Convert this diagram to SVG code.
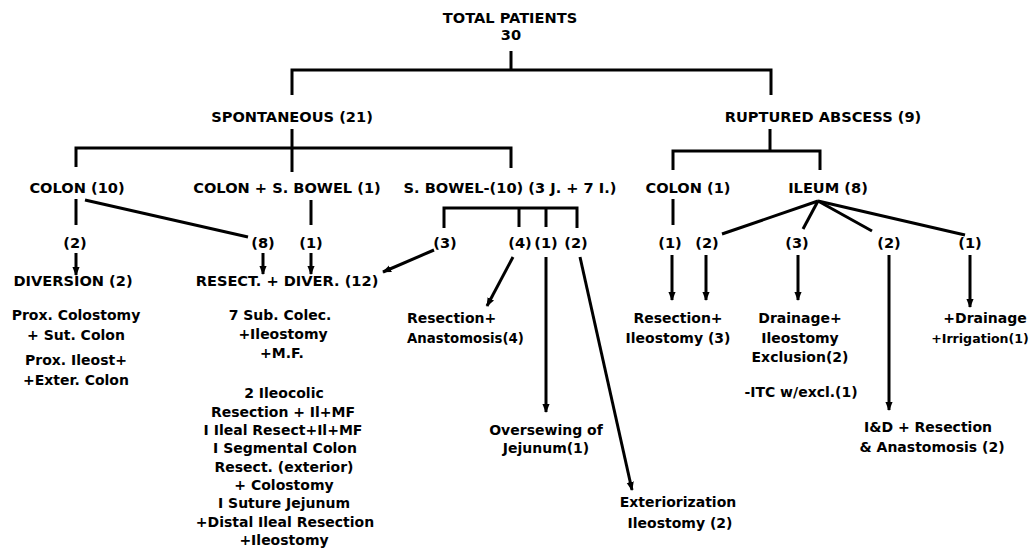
<svg xmlns="http://www.w3.org/2000/svg" width="1036" height="551" viewBox="0 0 1036 551">
<style>
text{font-family:"DejaVu Sans","Liberation Sans",sans-serif;font-weight:bold;fill:#000;text-anchor:middle}
.h{font-size:14.6px}
.s{font-size:14px}
.l{text-anchor:start}
.c line,.c polyline{stroke:#000;stroke-width:3;fill:none}
.c .a{marker-end:url(#ah)}
</style>
<defs>
<marker id="ah" viewBox="0 0 10 10" refX="9" refY="5" markerWidth="3" markerHeight="3.6" orient="auto" markerUnits="strokeWidth">
<path d="M0,1 L10,5 L0,9 Z" fill="#000"/>
</marker>
</defs>
<rect width="1036" height="551" fill="#fff"/>

<g id="total"><text class="h" x="510" y="23">TOTAL PATIENTS</text><text class="h" x="511" y="40">30</text></g>
<g id="spont"><text class="h" x="292" y="122">SPONTANEOUS (21)</text></g>
<g id="rupt"><text class="h" x="823" y="122">RUPTURED ABSCESS (9)</text></g>
<g id="colon10"><text class="h" x="77" y="193">COLON (10)</text></g>
<g id="colonsb"><text class="h" x="287" y="193">COLON + S. BOWEL (1)</text></g>
<g id="sbowel"><text class="h" x="510" y="193">S. BOWEL-(10) (3 J. + 7 I.)</text></g>
<g id="colon1"><text class="h" x="688" y="193">COLON (1)</text></g>
<g id="ileum"><text class="h" x="828" y="193">ILEUM (8)</text></g>

<g id="n-c2"><text class="h" x="75" y="248">(2)</text></g>
<g id="n-c8"><text class="h" x="263" y="248">(8)</text></g>
<g id="n-cs1"><text class="h" x="311" y="248">(1)</text></g>
<g id="n-s3"><text class="h" x="445" y="248">(3)</text></g>
<g id="n-s4"><text class="h" x="520" y="248">(4)</text></g>
<g id="n-s1"><text class="h" x="546" y="248">(1)</text></g>
<g id="n-s2"><text class="h" x="576" y="248">(2)</text></g>
<g id="n-co1"><text class="h" x="670" y="248">(1)</text></g>
<g id="n-i2a"><text class="h" x="707" y="248">(2)</text></g>
<g id="n-i3"><text class="h" x="797" y="248">(3)</text></g>
<g id="n-i2b"><text class="h" x="889" y="248">(2)</text></g>
<g id="n-i1"><text class="h" x="970" y="248">(1)</text></g>

<g id="diversion">
<text class="h" x="73" y="286">DIVERSION (2)</text>
<text class="s" x="76" y="320">Prox. Colostomy</text>
<text class="s" x="76" y="340">+ Sut. Colon</text>
<text class="s" x="76" y="365">Prox.  Ileost+</text>
<text class="s" x="76" y="385">+Exter. Colon</text>
</g>
<g id="resect">
<text class="h" x="287" y="286">RESECT. + DIVER. (12)</text>
<text class="s" x="280" y="320">7 Sub. Colec.</text>
<text class="s" x="283" y="339">+Ileostomy</text>
<text class="s" x="282" y="358">+M.F.</text>
<text class="s" x="284" y="398">2 Ileocolic</text>
<text class="s" x="283" y="417">Resection + Il+MF</text>
<text class="s" x="283" y="435">I Ileal Resect+Il+MF</text>
<text class="s" x="285" y="453">I Segmental Colon</text>
<text class="s" x="284" y="472">Resect. (exterior)</text>
<text class="s" x="284" y="490">+ Colostomy</text>
<text class="s" x="284" y="508">I Suture Jejunum</text>
<text class="s" x="285" y="527">+Distal Ileal Resection</text>
<text class="s" x="284" y="545">+Ileostomy</text>
</g>
<g id="resanast"><text class="s l" x="407" y="323">Resection+</text><text class="s l" x="407" y="343" style="font-size:13.3px">Anastomosis(4)</text></g>
<g id="oversew"><text class="s" x="546" y="435">Oversewing of</text><text class="s" x="546" y="453">Jejunum(1)</text></g>
<g id="exter"><text class="s" x="678" y="507">Exteriorization</text><text class="s" x="680" y="528">Ileostomy (2)</text></g>
<g id="resileo"><text class="s" x="678" y="323">Resection+</text><text class="s" x="678" y="343">Ileostomy  (3)</text></g>
<g id="drain"><text class="s" x="800" y="323">Drainage+</text><text class="s" x="800" y="343">Ileostomy</text><text class="s" x="800" y="362">Exclusion(2)</text><text class="s" x="801" y="397">-ITC w/excl.(1)</text></g>
<g id="iandd"><text class="s" x="928" y="432">I&amp;D +  Resection</text><text class="s" x="932" y="452">&amp; Anastomosis (2)</text></g>
<g id="irrig"><text class="s" x="985" y="323">+Drainage</text><text class="s" x="980" y="343" style="font-size:12.6px">+Irrigation(1)</text></g>

<g id="connectors" class="c">
<line x1="511" y1="51" x2="511" y2="70"/>
<polyline points="292,95 292,70 771,70 771,95"/>
<line x1="292" y1="129" x2="292" y2="172"/>
<polyline points="76,167 76,148 511,148 511,168"/>
<line x1="770" y1="129" x2="770" y2="151"/>
<polyline points="673,170 673,151 820,151 820,170"/>
<line x1="76" y1="199" x2="76" y2="225"/>
<line x1="85" y1="200" x2="248" y2="237"/>
<line x1="311" y1="200" x2="311" y2="225"/>
<polyline points="444,228 444,208 577,208 577,228"/>
<line x1="519" y1="208" x2="519" y2="227"/>
<line x1="546" y1="208" x2="546" y2="227"/>
<line x1="673" y1="199" x2="673" y2="225"/>
<line x1="818" y1="201" x2="722" y2="234"/>
<line x1="818" y1="201" x2="803" y2="229"/>
<line x1="818" y1="201" x2="872" y2="231"/>
<line x1="818" y1="201" x2="965" y2="235"/>
<line class="a" x1="76" y1="253" x2="76" y2="275"/>
<line class="a" x1="263" y1="253" x2="263" y2="274"/>
<line class="a" x1="311" y1="253" x2="311" y2="274"/>
<line class="a" x1="434" y1="250" x2="383" y2="272"/>
<line class="a" x1="513" y1="257" x2="487" y2="306"/>
<line class="a" x1="546" y1="257" x2="546" y2="412"/>
<line class="a" x1="580" y1="257" x2="632" y2="490"/>
<line class="a" x1="672" y1="255" x2="672" y2="300"/>
<line class="a" x1="706" y1="255" x2="706" y2="300"/>
<line class="a" x1="798" y1="255" x2="798" y2="300"/>
<line class="a" x1="889" y1="255" x2="889" y2="410"/>
<line class="a" x1="970" y1="255" x2="970" y2="307"/>
</g>
</svg>
